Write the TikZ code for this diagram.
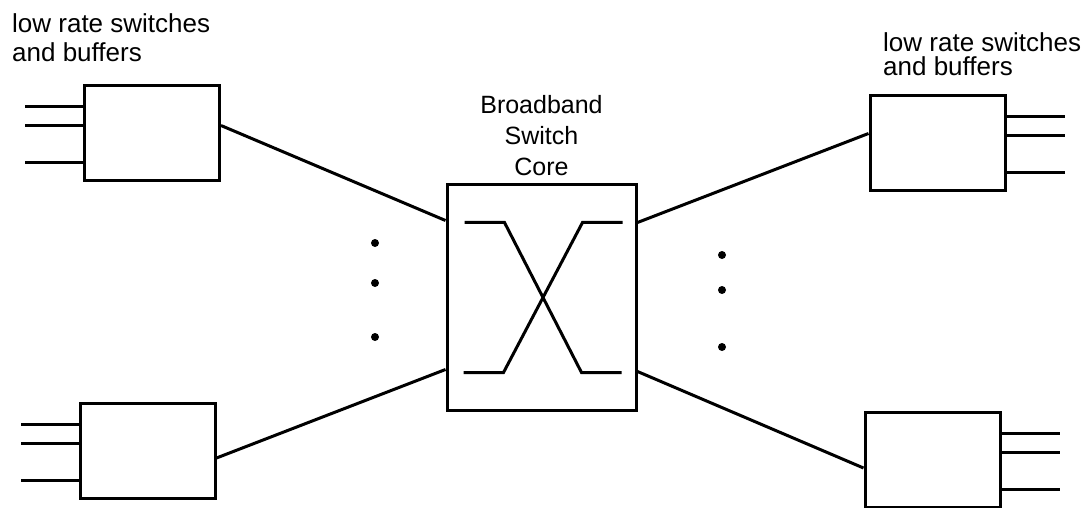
\documentclass[tikz,border=0pt]{standalone}
\usepackage{fontspec}
\setmainfont{Liberation Sans}
\usetikzlibrary{positioning,calc}
\tikzset{
  wire/.style={line width=3pt},
  lbox/.style={draw,line width=3pt,inner sep=0pt,
               minimum width=135pt,minimum height=95pt},
  cbox/.style={draw,line width=3pt,inner sep=0pt,
               minimum width=189pt,minimum height=225pt},
  lbl/.style={inner sep=0pt,align=left,font=\fontsize{26}{29}\selectfont},
  dotm/.style={fill=black},
}

\begin{document}
\begin{tikzpicture}[x=1pt,y=-1pt]
\useasboundingbox (0,0) rectangle (1088,508);
% low rate switch boxes
\node[lbox] (tl) at (152,133.5) {};
\node[lbox] (bl) at (147.5,451) {};
\node[lbox] (tr) at (937.5,143.5) {};
\node[lbox] (br) at (932.5,460) {};
% broadband core
\node[cbox] (core) at (541.5,297.5) {};
\node[lbl,align=center,font=\fontsize{25}{31}\selectfont,above=8pt of core]
  (corelbl) {Broadband\\Switch\\Core};
% labels
\node[lbl,anchor=north west] (tllbl) at (12,13) {low rate switches\\and buffers};
\node[lbl,anchor=north west,font=\fontsize{26}{24}\selectfont]
  (trlbl) at (883,32) {low rate switches\\and buffers};
% input lines
\foreach \b in {tl,bl}{
  \foreach \dy in {27,8,-29}{
    \draw[wire] ([yshift=\dy pt]\b.west) -- ++(-58,0);
  }
}
\foreach \b in {tr,br}{
  \foreach \dy in {27,8,-29}{
    \draw[wire] ([yshift=\dy pt]\b.east) -- ++(58,0);
  }
}
% links to the core
\draw[wire] ([yshift=8pt]tl.east) -- ([yshift=77pt]core.west);
\draw[wire] ([yshift=-7pt]bl.east) -- ([yshift=-72pt]core.west);
\draw[wire] ([yshift=75pt]core.east) -- ([yshift=10pt]tr.west);
\draw[wire] ([yshift=-74pt]core.east) -- ([yshift=-8pt]br.west);
% crossbar inside the core
\draw[wire] ($(core.center)+(-77,-75)$) -- ++(40,0) -- ++(77,150) -- ++(40,0);
\draw[wire] ($(core.center)+(-78,75)$) -- ++(40,0) -- ++(79,-150) -- ++(40,0);
% dots
\foreach \x/\y in {375/243, 375/283, 375/337, 722/255, 722/290, 722/347}{
  \fill[dotm] (\x,\y) circle (4pt);
}
\end{tikzpicture}
\end{document}
